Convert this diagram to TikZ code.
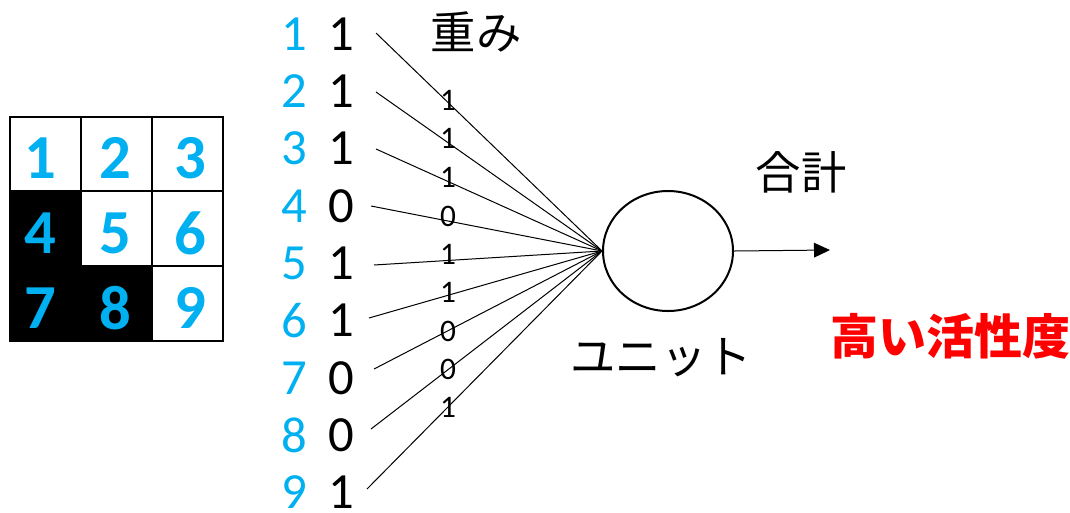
\documentclass[tikz,border=0pt]{standalone}
\usepackage{fontspec}
\setmainfont{Carlito}
\newfontfamily\jp{Noto Sans CJK JP}
\usetikzlibrary{arrows.meta,shapes.geometric}
\definecolor{cblue}{RGB}{0,176,240}
\definecolor{cred}{RGB}{255,0,0}
\tikzset{
  cell/.style={draw=black,line width=1.5pt,minimum width=53.25pt,minimum height=56.25pt,inner sep=0pt,outer sep=0pt},
  whitecell/.style={cell,fill=white},
  blackcell/.style={cell,fill=black},
  griddigit/.style={text=cblue,font=\fontsize{47}{50}\selectfont\bfseries,inner sep=0pt},
  idx/.style={text=cblue,font=\fontsize{38}{40}\selectfont,inner sep=0pt},
  val/.style={text=black,font=\fontsize{38}{40}\selectfont,inner sep=0pt},
  wlab/.style={text=black,font=\fontsize{23.5}{25}\selectfont,inner sep=0pt},
  jplab/.style={text=black,font=\jp\fontsize{34}{36}\selectfont,inner sep=0pt},
  wire/.style={draw=black,line width=0.75pt},
}
\begin{document}
\begin{tikzpicture}[x=0.75pt,y=-0.75pt]
\useasboundingbox (0,0) rectangle (1070,512);
% grid
\node[whitecell] (c1) at (45.5,154) {};
\node[whitecell] (c2) at (116.5,154) {};
\node[whitecell] (c3) at (187,154) {};
\node[blackcell] (c4) at (45.5,228.5) {};
\node[whitecell] (c5) at (116.5,228.5) {};
\node[whitecell] (c6) at (187,228.5) {};
\node[blackcell] (c7) at (45.5,303.5) {};
\node[blackcell] (c8) at (116.5,303.5) {};
\node[whitecell] (c9) at (187,303.5) {};
\node[griddigit] (d1) at (40,158) {1};
\node[griddigit] (d2) at (115,158) {2};
\node[griddigit] (d3) at (190,158) {3};
\node[griddigit] (d4) at (40,233) {4};
\node[griddigit] (d5) at (115,233) {5};
\node[griddigit] (d6) at (190,233) {6};
\node[griddigit] (d7) at (40,308) {7};
\node[griddigit] (d8) at (115,308) {8};
\node[griddigit] (d9) at (190,308) {9};
% unit
\node[draw=black,line width=1.5pt,ellipse,minimum width=97.5pt,minimum height=90pt,inner sep=0pt] (u) at (668,251) {};
% inputs
\foreach \i/\v/\sx/\sy in {1/1/376/33,2/1/376/92,3/1/376/149,4/0/371/206,5/1/374/265,6/1/369/318,7/0/374/369,8/0/371/429,9/1/367/489}{
  \node[idx] (n\i) at (294,{34+57.3*(\i-1)}) {\i};
  \node[val] (v\i) at (341,{34+57.3*(\i-1)}) {\v};
  \coordinate (s\i) at (\sx,\sy);
  \draw[wire] (s\i) -- (u.west);
}
% weights
\foreach \i/\w/\y in {1/1/100,2/1/138,3/1/177,4/0/216,5/1/254,6/1/292,7/0/331,8/0/369,9/1/407}{
  \node[wlab] (w\i) at (448,\y) {\w};
}
\coordinate (out) at (830,250);
\draw[wire,-{Triangle[length=12pt,width=11pt]}] (u.east) -- (out);
\node[jplab] (omomi) at (476,32) {重み};
\node[jplab] (goukei) at (801,172) {合計};
\node[jplab] (unit) at (661,358) {ユニット};
\node[text=cred,font=\jp\fontsize{36}{38}\selectfont\bfseries,inner sep=0pt] (act) at (950,336) {高い活性度};
\end{tikzpicture}
\end{document}
